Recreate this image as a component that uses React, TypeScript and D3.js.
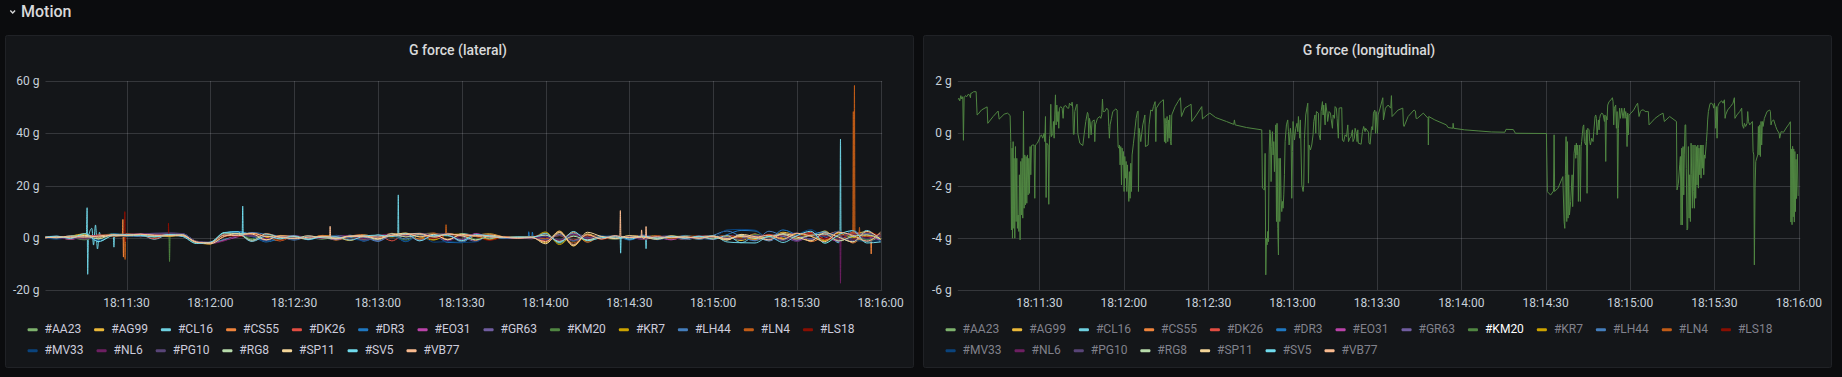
import React, { useMemo } from 'react';
import * as d3 from 'd3';

const W = 1842;
const H = 377;

// ---------- categories / labels ----------
const seriesNames = ['#AA23', '#AG99', '#CL16', '#CS55', '#DK26', '#DR3', '#EO31', '#GR63', '#KM20', '#KR7', '#LH44', '#LN4', '#LS18', '#MV33', '#NL6', '#PG10', '#RG8', '#SP11', '#SV5', '#VB77'];
const seriesColors = ['#7EB26D', '#EAB839', '#6ED0E0', '#EF843C', '#E24D42', '#1F78C1', '#BA43A9', '#705DA0', '#508642', '#CCA300', '#447EBC', '#C15C17', '#890F02', '#0A437C', '#6D1F62', '#584477', '#B7DBAB', '#F4D598', '#70DBED', '#F9BA8F'];

const xTickLabels = ['18:11:30', '18:12:00', '18:12:30', '18:13:00', '18:13:30', '18:14:00', '18:14:30', '18:15:00', '18:15:30', '18:16:00'];
const timeRangeLabels = ['18:11:01', '18:16:00'];
const latYTicks = [-20, 0, 20, 40, 60];
const lonYTicks = [-6, -4, -2, 0, 2];

// ---------- lateral G (seconds after 18:11:00, one value every 5 s) ----------
const latTimes = [0, 5, 10, 15, 20, 25, 30, 35, 40, 45, 50, 55, 60, 65, 70, 75, 80, 85, 90, 95, 100, 105, 110, 115, 120, 125, 130, 135, 140, 145, 150, 155, 160, 165, 170, 175, 180, 185, 190, 195, 200, 205, 210, 215, 220, 225, 230, 235, 240, 245, 250, 255, 260, 265, 270, 275, 280, 285, 290, 295, 300];

const latAA23 = [0.2, 0.3, -0.4, 0.8, 0.5, 1.2, 1.4, 0.9, 0.6, 1.1, 1.3, -1.8, -2.0, 1.2, 1.5, -0.8, 1.2, 0.4, -0.3, 0.6, 0.2, -0.5, 0.8, 0.3, -0.9, 1.4, 1.6, 1.2, -0.7, 1.5, 0.9, 1.3, 0.6, 0.2, 0.1, -0.2, 1.8, -2.1, 0.9, -0.4, 0.3, -0.2, 0.5, 0.1, -0.4, 0.6, 0.2, -0.3, 0.5, -0.8, 1.2, -1.0, 0.6, 1.4, -0.6, 1.9, -1.2, 2.2, 0.4, -1.5, 0.8];
const latAG99 = [0.1, -0.3, 0.6, 1.5, -0.8, 0.9, 1.2, 1.5, 0.3, 0.8, 1.0, -1.5, -2.2, -0.8, 0.9, 1.8, -1.2, 0.6, 0.2, -0.6, 0.9, 0.4, -1.1, 0.7, 0.2, 1.0, 1.8, -0.6, 1.4, 1.1, -1.3, 0.8, 1.5, 0.3, -0.2, 0.4, -1.9, 2.6, -3.2, 1.5, -0.3, 0.6, -0.4, 0.2, 0.8, -0.5, 0.3, 0.6, -0.2, 0.4, -1.1, 0.9, -0.4, 2.1, 0.8, -1.0, 2.6, -1.4, 1.1, 2.3, -0.5];
const latCL16 = [-0.3, 0.4, 0.2, 1.0, -1.2, 1.3, 0.8, 1.1, -0.6, 1.2, 0.7, -2.0, -1.8, 1.9, 2.2, 1.1, -0.9, 0.8, -0.5, 0.3, -0.4, 0.9, 0.2, -0.8, 1.1, 0.6, 1.3, 1.7, 0.5, -0.9, 1.6, 0.7, -0.4, 0.5, 0.2, -0.3, 1.1, -1.6, 1.8, -0.9, 0.2, 0.7, -0.6, 0.4, -0.2, 0.5, -0.7, 0.3, 0.8, -1.6, -1.9, 0.4, -1.2, 1.3, -0.9, 1.0, 2.3, -1.9, -1.5, 2.8, -1.8];
const latCS55 = [0.4, 0.1, -0.5, 0.7, 0.9, 1.0, 1.5, 0.4, 1.2, 0.6, 1.4, -1.6, -1.9, 1.5, 0.6, 1.9, 0.3, -1.2, 0.7, 0.1, 0.5, -0.9, 0.6, 1.2, -0.2, 1.7, 0.4, 1.3, 1.8, -0.6, 1.2, -1.1, 0.8, 0.4, -0.1, 0.3, 0.9, -0.8, 2.1, -1.7, 0.6, -0.3, 0.4, 0.9, -0.5, 0.2, 0.7, -0.4, 0.1, 0.9, -0.3, 1.5, -0.7, 0.3, 1.6, -1.5, 0.7, 2.4, -2.0, 1.2, 0.4];
const latDK26 = [-0.2, 0.5, 0.3, -0.6, 1.1, 0.7, 1.3, 1.2, -0.4, 1.5, 0.9, -1.9, -2.3, 0.4, 1.2, -1.3, 1.6, 0.2, -0.6, 0.8, -0.2, 0.6, -0.7, 0.4, 0.9, -1.2, 1.5, 0.9, -0.4, 1.7, 0.6, 1.0, -0.8, 0.2, 0.3, 0.1, -1.2, 1.4, -0.9, 0.7, 0.4, -0.5, 0.2, -0.3, 0.6, 0.1, -0.6, 0.8, 0.3, -0.5, 1.0, -0.8, 1.3, -0.4, 0.9, 2.0, -0.8, 0.9, 1.6, -1.1, 1.3];
const latDR3 = [0.3, -0.4, 0.8, 0.4, -1.0, 1.6, 0.9, 0.6, 1.0, 0.4, 1.5, -1.4, -2.1, 1.8, 2.4, 0.8, -1.6, -0.2, 0.9, -0.8, 0.3, -0.3, 1.0, -1.3, 0.6, 1.1, -1.5, 1.5, 1.2, -1.8, -1.9, 1.4, 0.3, -0.3, 0.2, 0.5, 1.3, -1.3, 0.6, 0.3, -0.4, 0.8, -0.9, 0.6, 0.3, -0.4, 0.9, -0.1, -0.6, 1.2, 2.8, 2.6, -0.3, 3.0, 1.1, -0.4, 1.8, -1.6, 2.9, -0.7, 1.5];
const latEO31 = [0.0, 0.2, -0.6, 0.5, 0.8, 1.1, 1.0, 1.3, 1.6, 1.4, 1.2, -1.7, -2.0, -1.0, 0.4, 1.4, -0.5, 0.5, 0.1, -0.4, 0.7, -0.6, 0.3, 0.9, -0.6, 1.3, 1.0, 0.6, 1.4, 0.8, -0.7, 1.6, 0.4, 0.1, -0.3, 0.2, 0.5, -1.1, 1.2, -0.6, 0.5, 0.1, -0.4, 0.7, 0.2, -0.8, 0.4, 0.2, -0.5, 0.7, 0.4, -0.9, 0.8, 1.1, -1.0, 1.5, 0.3, -1.3, 2.1, 0.6, -0.9];
const latGR63 = [0.1, -0.2, 0.4, -0.3, 0.6, 0.9, 1.1, 1.5, 1.7, 1.8, 1.6, -1.3, -1.8, 1.3, 1.0, 0.6, -1.1, 0.3, -0.4, 0.5, 0.1, -0.7, 0.5, 0.6, -1.3, 0.9, 1.4, -0.9, 0.8, 1.3, 0.5, -1.4, 1.1, 0.3, 0.0, -0.4, 0.7, -1.5, 1.5, 0.4, -0.2, 0.5, 0.3, -0.6, 0.4, 0.7, -0.3, 0.1, 0.6, -0.2, 0.8, 0.5, -1.0, 0.7, 1.8, -0.7, 1.2, 1.9, -0.6, 1.7, 0.2];
const latKM20 = [-0.1, 0.4, 0.1, -0.8, 0.7, 1.4, 0.6, 1.0, 0.9, 1.3, 1.1, -2.1, -2.1, 0.9, 1.7, -0.4, 0.9, -0.6, 0.4, 0.2, -0.6, 0.3, -0.2, 1.0, 0.4, 0.8, -0.9, 1.4, 1.5, 0.6, 1.1, -0.6, 0.7, -0.1, 0.4, 0.0, -0.6, 1.9, -1.4, 0.8, 0.1, -0.6, 0.6, 0.3, -0.4, 0.8, 0.1, -0.5, 0.4, 0.3, -0.7, 1.3, 0.2, -0.5, 0.6, 1.1, -1.8, 0.6, 1.3, -0.8, 1.0];
const latKR7 = [0.2, 0.0, 0.5, 1.2, -0.5, 0.8, 1.3, 0.7, 1.1, 0.5, 0.8, -1.8, -2.4, 1.6, 1.3, 1.6, 0.2, -0.8, 0.5, 0.3, 0.6, -0.2, 0.8, -0.7, 0.9, 0.3, 1.1, 0.4, -0.9, 1.2, 1.4, 0.5, -0.6, 0.2, 0.3, -0.1, 2.2, -2.6, 1.0, -1.2, 0.4, -0.2, 0.7, -0.5, 0.5, -0.3, 0.6, 0.4, -0.4, 0.6, 0.2, -0.6, 0.9, -0.3, 1.4, 0.5, -1.1, 1.7, 0.1, 1.0, -0.3];
const latLH44 = [0.3, 0.6, -0.2, 0.3, 0.4, 1.1, 0.8, 0.5, 1.4, 0.9, 0.6, -1.5, -1.9, -0.6, 0.7, 2.0, 1.3, 0.6, -0.9, 0.4, 0.5, -0.4, 0.4, 0.2, -1.4, 1.2, -0.5, 1.6, 0.7, 1.0, -1.6, 0.9, 0.6, -0.2, 0.1, 0.3, -0.7, 1.2, -1.1, 0.5, 0.6, -0.4, 0.3, 0.5, -0.7, 0.3, 0.5, -0.6, 0.9, 2.6, 0.5, -1.2, 2.5, 0.6, -1.3, 1.2, 2.1, -0.9, 0.7, 1.8, -1.2];
const latLN4 = [0.5, 0.2, -0.3, 0.9, 0.2, 0.6, 1.6, 1.0, 0.7, 1.1, 1.3, -1.7, -2.2, 1.4, 1.1, 1.2, -0.7, 0.9, 0.3, -0.2, 0.8, 0.2, -0.5, 0.5, 0.7, 1.5, 0.8, -0.5, 1.6, 1.3, 0.4, 0.7, 1.2, 0.4, 0.1, 0.2, -0.4, 0.8, -2.0, 0.9, 0.3, 0.6, -0.1, 0.4, 0.1, 0.6, -0.4, 0.5, 0.2, -0.3, 0.7, 0.3, -0.2, 1.0, -0.5, 1.3, 0.9, -0.9, 2.0, 0.4, 1.6];
const latLS18 = [-0.4, 0.3, 0.6, -0.2, 0.8, 1.2, 1.1, 0.8, 1.2, 1.5, 0.9, -1.4, -2.0, 0.7, 0.5, 1.3, 0.8, -1.0, 0.6, -0.1, 0.4, 0.6, -0.8, 0.8, -0.3, 1.3, 1.2, 0.8, -0.3, 1.1, 1.2, 0.5, -1.0, 0.3, -0.1, 0.4, 1.4, -1.0, 0.4, 0.6, -0.6, 0.3, 0.4, -0.2, 0.7, -0.2, 0.3, 0.7, 0.0, 0.8, -0.4, 0.7, 1.1, -0.8, 0.4, 1.6, -0.4, 1.3, -0.7, 2.2, 0.7];
const latMV33 = [0.1, -0.5, 0.2, 0.6, -0.9, 1.0, 0.5, 1.4, 0.8, 1.2, 1.5, -1.6, -2.1, 1.7, 1.9, 0.3, -1.4, 0.4, -0.7, 0.6, 0.2, 0.8, -0.3, -1.0, 0.5, 0.7, -1.4, 1.1, -1.7, -1.5, -1.8, -1.6, 0.9, 0.0, 0.3, -0.3, 0.6, -0.7, 0.8, -0.5, 0.7, 0.4, -0.5, 1.2, -0.8, 0.4, -0.6, 0.7, 0.2, 3.0, 3.2, 2.9, -0.5, -0.8, 1.2, 3.1, 0.3, 2.6, -1.0, -1.3, -1.2];
const latNL6 = [0.2, 0.1, -0.4, 0.4, 0.6, 0.8, 1.2, 1.6, 1.3, 1.0, 1.4, -1.9, -2.2, -1.2, 0.8, 1.0, -0.3, 0.2, 0.8, 0.1, -0.3, 0.5, 0.9, -0.4, 0.8, 1.4, 0.6, 1.5, 1.0, -1.2, 0.7, 1.2, 0.5, 0.2, 0.1, -0.2, 0.3, -0.9, 1.3, -0.3, 0.2, 0.6, 0.2, -0.6, 0.5, 0.3, 0.0, -0.3, 0.5, -0.4, 0.6, 0.1, -0.6, 0.9, -1.4, 0.8, 1.1, -0.5, 1.4, -0.2, 0.9];
const latPG10 = [0.0, 0.3, 0.3, -0.5, 0.5, 1.0, 1.4, 1.2, 1.6, 1.7, 1.5, -1.5, -1.7, 1.1, 1.2, 0.5, 0.6, -0.5, 0.3, -0.3, 0.4, 0.2, 0.6, -0.9, 0.2, 1.1, 0.9, -1.1, 1.2, 1.6, -0.9, 1.1, 0.8, -0.1, 0.2, 0.1, -0.8, 0.9, -1.3, 0.2, -0.1, 0.3, 0.5, -0.4, 0.2, 0.5, -0.5, 0.3, 0.4, 0.1, -0.6, 0.9, 0.5, -1.1, 1.0, -0.5, 1.6, 0.6, -1.1, 1.5, 0.3];
const latRG8 = [0.3, 0.0, 0.7, 0.6, -0.4, 1.2, 0.7, 1.0, 0.5, 0.9, 1.2, -1.8, -1.9, 1.8, 1.4, -1.0, 1.5, 0.1, -0.2, 0.7, 0.0, -0.3, 0.7, 0.5, -0.6, 1.6, 0.3, 1.2, 0.6, 1.4, 0.8, -0.8, 0.4, 0.1, 0.2, 0.3, 1.0, -1.4, 0.6, -0.8, 0.4, -0.1, 0.1, 0.6, -0.3, 0.2, 0.4, -0.2, 0.7, -0.6, 0.9, -0.3, 0.4, 1.2, -0.2, 0.9, 1.4, -1.2, 0.5, 1.1, -0.6];
const latSP11 = [-0.2, 0.4, 0.0, 0.9, 0.3, 0.9, 1.0, 1.4, 0.9, 1.1, 0.8, -1.6, -2.3, 0.5, 1.6, 1.4, -0.8, 0.7, 0.5, -0.5, 0.6, -0.1, 0.5, 0.8, -0.4, 1.0, 1.7, 0.3, 1.3, -0.8, 1.3, 0.6, 1.0, 0.3, 0.0, 0.2, -2.3, 2.0, -3.0, 2.1, 0.5, -0.3, 0.8, 0.2, -0.6, 0.7, -0.1, 0.4, 0.3, -0.9, 1.3, 0.4, -0.8, 1.6, 0.3, -1.2, 1.9, 0.2, -1.6, 2.4, -0.7];
const latSV5 = [0.1, 0.6, -0.3, 1.6, -1.5, 0.8, 1.2, 0.9, 0.3, 1.2, 0.5, -2.2, -1.7, 2.0, 2.3, -1.4, 0.6, -0.4, 0.7, -0.6, 0.3, 0.4, -0.9, 0.6, 1.0, 0.5, 1.5, -1.2, 1.0, 0.9, -1.1, 1.2, 0.7, 0.0, 0.3, 0.1, 1.6, -1.8, 2.4, -1.1, 0.0, 0.4, -0.5, 0.5, -0.1, 0.4, -0.2, 0.6, -0.5, 0.8, -1.9, -2.0, 0.5, -1.8, 0.8, 2.5, -2.1, 1.2, 2.7, -2.0, -1.6];
const latVB77 = [0.0, 0.2, 0.4, 0.2, 0.7, 1.1, 0.9, 1.3, 1.0, 0.7, 1.0, -1.7, -2.0, 1.0, 0.8, 1.7, 0.5, 0.3, -0.4, 0.2, 0.4, -0.5, 0.6, 0.4, 0.3, 0.9, 1.2, 1.6, 0.2, 1.4, 1.0, 0.9, 0.3, 0.2, -0.2, 0.0, -1.5, 2.3, -2.6, 1.2, -0.5, 0.8, 0.1, -0.3, 0.4, 0.0, 0.3, -0.2, 0.6, -0.3, 0.5, 0.2, 1.0, -0.6, 1.7, 0.6, -1.5, 2.1, 0.9, -1.3, 2.2];

// short spikes [seconds, g]
const spikeCL16 = [[15.6, 0.6], [15.9, 11.5], [16.1, -14.0], [16.4, 0.5], [17.6, 3.6], [18.2, -2.8], [18.9, 4.9], [19.6, -4.3], [20.3, 2.1], [21.0, -1.0], [25.3, 0.3], [25.5, -3.6], [25.7, 0.4], [127.1, 0.6], [127.3, 16.4], [127.5, 0.4], [215.8, 0.2], [216.0, -4.2], [216.2, 0.3], [285.4, 0.5], [285.6, 37.8], [285.8, 0.2]];
const spikeCS55 = [[28.5, 0.9], [28.7, 7.0], [28.9, -7.4], [29.1, 0.8], [296.4, 0.5], [296.6, -6.2], [296.8, 0.8]];
const spikeLS18 = [[29.2, 1.0], [29.4, 10.0], [29.6, -1.5], [29.8, 0.9], [44.8, 1.2], [45.0, 5.6], [45.2, 1.1]];
const spikeLN4 = [[29.3, 0.6], [29.5, -8.3], [29.7, 0.8], [144.2, 0.9], [144.4, 5.0], [144.6, 0.8], [290.0, 1.0], [290.2, 48.3], [290.4, 2.0], [290.6, 58.3], [290.8, 1.5], [292.2, 1.2], [292.4, 4.0], [292.6, 0.9]];
const spikeKM20 = [[45.2, 1.0], [45.4, -9.1], [45.6, 0.8]];
const spikeSV5 = [[71.4, 1.0], [71.6, 12.1], [71.8, 0.8], [206.7, 0.2], [206.9, -5.9], [207.1, 0.3]];
const spikeVB77 = [[102.7, 0.3], [102.9, 4.4], [103.1, 0.2], [206.6, 0.5], [206.8, 10.4], [207.0, 0.4], [214.2, 0.2], [214.4, 3.0], [214.6, 0.3], [215.8, 0.2], [216.0, 4.3], [216.2, 0.1]];
const spikeNL6 = [[285.4, 0.3], [285.6, -17.4], [285.8, 0.5]];
const spikeDR3 = [[173.8, 0.1], [174.0, 2.3], [174.3, 0.2], [175.1, 0.3], [175.3, 2.2], [175.6, 0.4]];

const latValues = [latAA23, latAG99, latCL16, latCS55, latDK26, latDR3, latEO31, latGR63, latKM20, latKR7, latLH44, latLN4, latLS18, latMV33, latNL6, latPG10, latRG8, latSP11, latSV5, latVB77];
const latSpikes: Record<string, number[][]> = { '#CL16': spikeCL16, '#CS55': spikeCS55, '#LS18': spikeLS18, '#LN4': spikeLN4, '#KM20': spikeKM20, '#SV5': spikeSV5, '#VB77': spikeVB77, '#NL6': spikeNL6, '#DR3': spikeDR3 };

// ---------- longitudinal G of #KM20 [seconds after 18:11:00, g] ----------
const lonKM20 = [
  [1.0, 1.28], [1.36, 1.34], [1.71, 1.24], [2.07, 1.44], [2.42, 1.31], [2.78, 1.40], [3.0, -0.27], [3.25, 1.36], [3.73, 1.44], [4.2, 1.40], [4.67, 1.49], [5.15, 1.47], [5.5, 1.36], [5.62, 1.53], [6.1, 1.54], [6.57, 1.59], [7.52, 1.59], [7.87, 0.70], [8.23, 0.73], [9.41, 0.89], [11.43, 1.01], [11.67, 0.38], [13.56, 0.64], [15.34, 0.85], [15.7, 0.54], [17.47, 0.73], [18.66, 0.77], [19.6, 0.68], [19.84, -0.32], [20.08, -3.70], [20.3, -0.57], [20.43, -4.02], [20.67, -0.32], [20.9, -3.64], [21.0, -0.96], [21.26, -4.02], [21.5, -0.51], [21.74, -3.38], [21.97, -0.96], [22.2, -3.64], [22.45, -3.13], [22.7, -3.76], [22.9, -1.59], [23.15, -4.08], [23.4, -1.08], [23.63, -3.13], [23.87, -0.96], [24.1, -3.25], [24.35, 0.85], [24.58, -2.87], [24.82, -0.83], [25.05, -2.74], [25.3, -0.89], [25.53, -2.68], [25.77, -0.83], [26.0, -2.36], [26.24, -0.96], [26.48, -2.30], [26.7, -0.51], [26.95, -1.59], [27.19, -0.47], [27.66, -0.45], [28.1, -0.45], [28.37, -2.49], [28.6, -0.45], [29.3, -0.38], [29.8, -0.26], [30.27, -0.13], [30.74, -0.06], [31.2, -0.19], [31.7, 0.0], [31.93, -0.32], [32.17, 0.64], [32.4, -2.46], [32.64, -0.38], [33.1, -0.45], [33.35, -2.72], [33.6, -0.19], [33.8, -0.06], [34.06, 1.11], [34.3, -0.13], [34.77, 0.0], [35.0, 0.45], [35.25, -0.19], [35.48, 0.70], [35.72, 1.47], [35.96, 0.32], [36.2, 1.08], [36.43, 0.45], [36.67, 0.83], [36.9, 0.19], [37.14, 0.96], [37.6, 1.02], [38.1, 0.96], [38.45, 0.57], [38.7, 1.02], [39.4, 1.06], [40.0, 0.96], [40.46, 0.96], [40.7, 1.15], [41.4, 1.06], [41.64, 1.19], [41.88, 0.96], [42.1, -0.04], [42.35, -0.04], [42.6, 0.83], [43.2, 1.08], [43.4, 1.11], [43.66, 0.0], [44.37, -0.38], [45.44, -0.47], [45.9, -0.06], [46.5, 0.45], [47.1, 0.80], [47.33, 0.73], [47.57, -0.19], [47.8, 0.57], [48.04, 0.45], [48.4, -0.06], [48.75, 0.45], [49.5, 0.51], [49.7, -0.32], [49.94, 0.32], [50.65, 0.57], [51.5, 0.64], [51.84, 0.57], [52.2, 0.73], [52.43, 1.31], [52.67, 0.83], [53.26, 0.83], [53.97, 0.96], [54.44, 0.89], [54.68, 0.26], [54.9, -0.19], [55.15, 0.32], [55.63, 0.57], [56.1, 0.83], [57.17, 0.93], [57.64, 0.89], [58.0, -0.51], [58.24, -0.57], [58.47, -0.45], [58.7, -1.21], [58.95, -0.51], [59.2, -1.98], [59.42, -0.57], [59.66, -1.21], [59.9, -0.70], [60.13, -2.23], [60.37, -0.89], [60.6, -1.72], [60.84, -1.08], [61.08, -2.23], [61.3, -1.21], [61.55, -1.98], [61.8, -2.61], [62.0, -1.47], [62.26, -2.49], [62.5, -1.15], [62.74, -2.23], [62.97, -0.83], [63.45, -0.38], [63.9, 0.06], [64.4, 0.57], [64.87, 0.83], [65.1, 0.85], [65.23, -2.23], [65.46, 0.19], [66.05, -0.32], [66.77, 0.32], [67.5, 0.70], [67.7, -0.51], [68.66, -0.45], [69.0, 0.32], [69.6, 0.89], [70.2, 0.85], [70.55, 1.02], [71.15, 1.21], [71.4, -0.32], [71.6, 0.96], [72.7, 1.15], [73.6, 1.25], [74.1, 1.28], [74.35, 0.32],
  [74.47, -0.32], [74.7, 0.57], [74.94, -0.38], [75.18, 0.38], [75.42, 0.64], [75.65, -0.32], [75.89, 0.51], [76.13, -0.19], [76.37, 0.70], [76.6, -0.32], [76.84, -0.45], [77.08, 0.70], [77.31, 0.77], [78.26, 1.02], [79.3, 1.21], [80.16, 1.36], [80.51, 0.64], [81.7, 0.96], [83.5, 1.08], [83.95, 1.11], [84.2, 0.45], [85.85, 0.70], [87.74, 1.02], [87.98, 0.55], [89.64, 0.70], [90.6, 0.77], [92.7, 0.60], [96.5, 0.45], [99.1, 0.34], [99.35, 0.51], [99.6, 0.32], [103.6, 0.22], [109.07, 0.13], [109.3, -2.10], [110.0, -2.17], [110.26, -0.77], [110.5, -5.42], [110.73, -4.02], [110.97, -4.27], [111.2, -3.76], [111.44, -4.15], [111.68, -0.83], [111.92, 0.13], [112.15, 0.0], [112.39, -1.85], [112.63, -0.51], [112.86, 0.06], [113.1, -0.83], [113.34, -0.32], [113.57, -1.47], [113.8, -0.83], [114.05, 0.32], [114.3, -3.38], [114.5, 0.38], [114.76, -3.64], [115.0, -4.66], [115.23, -0.96], [115.47, -3.38], [115.7, -0.96], [115.94, -2.49], [116.18, -3.0], [116.42, -2.61], [116.65, -2.87], [116.9, -2.36], [117.13, -1.59], [117.37, -0.32], [117.84, 0.32], [118.3, 0.51], [118.55, 0.06], [118.8, -0.45], [119.26, 0.19], [119.5, -0.06], [119.74, -2.49], [119.97, -0.70], [120.2, 0.45], [120.7, -0.26], [121.15, 0.19], [121.6, 0.38], [121.87, 0.06], [122.1, 0.64], [122.58, -0.19], [122.8, 0.51], [123.3, -1.98], [123.77, -2.23], [124.0, -1.98], [124.24, -0.19], [124.7, 0.70], [125.2, 1.02], [125.43, 1.15], [125.66, -1.91], [125.9, -0.45], [126.37, -0.64], [126.85, -0.45], [127.3, -0.06], [127.56, 0.45], [128.0, 0.70], [128.27, 0.0], [128.5, 0.83], [129.2, 0.77], [129.45, -0.06], [129.9, -0.26], [130.17, 0.83], [130.64, 1.21], [130.88, 0.70], [131.1, 1.08], [131.6, 0.32], [131.8, 1.15], [132.3, 0.77], [132.5, 0.45], [133.0, 0.83], [133.5, 0.77], [133.7, 0.57], [134.2, 0.19], [134.43, 0.70], [134.9, 0.57], [135.14, 1.02], [135.6, 0.96], [135.85, 0.57], [136.3, -0.19], [136.56, 0.96], [137.5, 0.98], [137.75, -0.26], [138.2, -0.32], [138.7, -0.06], [139.2, -0.13], [139.65, 0.32], [139.9, -0.32], [140.35, -0.19], [140.8, -0.13], [141.3, 0.13], [141.5, -0.32], [142.0, -0.19], [142.25, 0.19], [142.7, 0.0], [142.96, -0.32], [143.2, 0.13], [143.4, -0.38], [144.4, -0.42], [144.86, 0.06], [145.3, 0.26], [145.8, 0.06], [146.0, 0.19], [147.0, 0.04], [147.2, -0.38],
  [147.6, -0.42], [148.06, 0.19], [148.3, 0.26], [148.53, 0.13], [148.77, 0.77], [149.25, 0.89], [149.5, 0.0], [149.7, 0.83], [150.2, 0.0], [150.43, 0.70], [151.14, 0.96], [152.1, 1.36], [152.33, 0.51], [153.04, 0.96], [154.0, 1.08], [154.93, 0.96], [155.17, 1.44], [155.4, 0.64], [157.54, 0.89], [159.2, 0.96], [159.44, 0.32], [159.67, 0.26], [161.1, 0.64], [163.2, 0.89], [163.7, 0.85], [163.94, 0.57], [164.4, 0.57], [166.5, 0.77], [168.2, 0.57], [168.3, -0.45], [168.44, 0.64], [170.6, 0.51], [174.7, 0.32], [175.3, 0.22], [177.0, 0.19], [177.1, 0.38], [177.3, 0.19], [181.2, 0.13], [186.0, 0.09], [190.7, 0.05], [195.5, 0.04], [195.9, 0.15], [198.5, 0.14], [199.25, 0.0], [210.27, -0.01], [210.6, -2.23], [211.1, -2.30], [211.8, -2.36], [212.8, -2.21], [213.0, -0.06], [213.2, -2.23], [214.4, -2.10], [216.1, -1.66], [216.56, -3.38], [216.8, -3.64], [217.0, -1.59], [217.26, -0.13], [217.5, -3.38], [217.74, -0.32], [217.97, -3.25], [218.2, -1.59], [218.45, -3.13], [218.9, -2.61], [219.4, -1.59], [219.6, -2.81], [220.1, -0.77],
  [220.46, -0.45], [220.7, -0.96], [220.93, -0.38], [221.17, -0.83], [221.4, -0.45], [221.64, -2.61], [221.88, -0.70], [222.1, -0.45], [222.35, -2.61], [222.6, -0.51], [222.8, -0.32], [223.3, 0.26], [223.54, 0.32], [223.77, -0.32], [224.25, -0.45], [224.5, 0.13], [224.72, -2.30], [224.96, 0.19], [225.43, 0.13], [225.67, -0.32], [225.9, -0.45], [226.38, -0.19], [226.86, -0.32], [227.1, 0.06], [227.57, 0.64], [227.8, 0.70], [228.04, 0.57], [228.28, -0.06], [228.75, 0.51], [229.0, 0.13], [229.2, 0.57], [229.46, 0.70], [229.94, 0.77], [230.4, 0.73], [230.9, 0.45], [231.1, 0.70], [231.36, -1.08], [231.6, 0.64], [231.83, 0.51], [232.07, 1.08], [232.54, 1.21], [233.25, 1.28], [233.73, 1.36], [233.97, 1.21], [234.2, 0.32], [234.44, 0.96], [234.9, 1.08], [235.15, 0.19], [235.4, 0.83], [235.6, -2.49], [235.86, 0.19], [236.3, 0.96], [236.57, 0.57], [237.05, 0.96], [237.5, 0.57], [238.0, 0.96], [238.23, 0.57], [238.47, 0.83], [238.7, 0.64], [238.94, -0.51], [239.18, 0.77], [239.4, -0.06], [239.65, 0.70], [240.36, 0.77], [241.3, 0.89], [242.26, 1.08], [242.7, 1.15], [243.2, 0.64], [243.68, 0.83], [244.16, 0.89], [244.87, 0.89], [245.34, 0.83], [246.05, 0.83], [246.5, 0.83], [246.76, 0.32], [248.9, 0.57], [250.55, 0.70], [251.74, 0.77], [252.2, 0.45], [254.1, 0.64], [256.5, 0.45], [256.7, -2.17], [257.2, -1.91], [257.66, -1.21], [257.9, -0.89], [258.14, -3.51], [258.4, -0.57], [258.6, -3.51], [258.85, -0.51], [259.1, -2.36], [259.3, -0.83], [259.56, 0.32], [259.8, 0.32], [260.0, -1.34], [260.27, -3.70], [260.5, -3.64], [260.75, -0.51], [261.0, -3.25], [261.2, -1.59], [261.46, -3.38], [261.7, -0.38], [261.93, -1.59], [262.17, -2.87], [262.4, -0.45], [262.64, -2.23], [262.88, -2.87], [263.1, -0.45], [263.35, -2.49], [263.6, -0.51], [263.8, -1.98], [264.1, -0.45], [264.3, -2.10], [264.5, -0.57], [264.8, -1.59], [265.0, -0.45], [265.25, -1.72], [265.5, -0.45], [265.7, -1.34], [265.96, -0.45], [266.2, -1.59], [266.43, -0.83], [266.67, -0.96], [267.15, -0.32], [267.4, 0.06], [267.6, 0.51], [267.86, 0.83], [268.33, 1.08], [268.57, 1.15], [269.04, 1.15], [269.5, 1.08], [269.75, 0.96], [270.0, 1.15], [270.2, 0.96], [270.46, 0.19], [270.7, 1.02], [270.94, -0.19], [271.2, 1.02], [271.65, 1.15], [272.6, 1.24], [273.07, 1.15], [273.55, 1.28], [273.8, 0.57], [274.0, 0.70], [274.7, 0.89], [275.7, 1.02], [276.6, 1.15], [277.1, 1.36], [277.3, 0.57], [278.0, 0.70], [279.0, 0.83], [279.7, 0.96], [279.94, 0.32], [280.4, 0.19], [280.65, 0.38], [281.1, 0.26], [281.6, 0.38], [281.84, 0.83], [282.1, 0.45], [282.55, 0.32], [283.5, 0.45], [283.74, -0.70], [284.0, -0.83], [284.2, -5.04], [284.45, -2.10], [284.7, -1.08], [285.4, -0.83], [285.63, 0.26], [285.87, -0.83], [286.1, 0.32], [286.34, -0.89], [286.58, 0.45], [286.8, -0.45], [287.05, 0.45], [287.3, 0.26], [287.76, 0.57], [288.24, 0.70], [288.7, 0.83], [289.66, 0.89], [289.9, 0.83], [290.13, 0.32], [290.37, 0.45], [291.08, 0.51], [291.8, 0.26], [292.27, 0.13], [293.0, 0.0], [293.2, -0.19], [293.7, 0.06], [294.6, 0.04], [295.5, 0.2], [296.5, 0.35], [297.0, 0.44], [297.2, -3.4], [297.4, -0.6], [297.6, -3.5], [297.8, -0.5], [298.0, -3.2], [298.2, -0.6], [298.4, -3.4], [298.6, -0.7], [298.8, -3.0], [299.0, -1.0], [299.2, -2.5], [299.5, -0.8], [299.8, -2.4]
];

// ---------- styling ----------
const BG = '#0b0c0e';
const PANEL_BG = '#141619';
const PANEL_BORDER = '#202226';
const GRID = 'rgba(240,250,255,0.15)';
const TEXT = '#d8d9da';
const TICK_TEXT = '#c7d0d9';
const FONT = 'Roboto, Helvetica, Arial, sans-serif';

const hmsToSec = (s: string) => {
  const [h, m, sec] = s.split(':').map(Number);
  return (h - 18) * 3600 + (m - 11) * 60 + sec;
};

type PanelDef = {
  id: string; title: string; x: number; y: number; w: number; h: number;
  plotL: number; plotR: number; plotT: number; plotB: number; yTicks: number[];
  titleCx: number; hidden: (name: string) => boolean;
};

const panels: PanelDef[] = [
  { id: 'lat', title: 'G force (lateral)', x: 5, y: 35, w: 909, h: 333, plotL: 45.5, plotR: 880.7, plotT: 81, plotB: 290, yTicks: latYTicks, titleCx: 458, hidden: () => false },
  { id: 'lon', title: 'G force (longitudinal)', x: 923, y: 35, w: 909, h: 333, plotL: 957.8, plotR: 1798.8, plotT: 81, plotB: 290, yTicks: lonYTicks, titleCx: 1369, hidden: (n) => n !== '#KM20' },
];

function measure(text: string, font: string) {
  if (typeof document === 'undefined') return text.length * 7;
  const c = document.createElement('canvas');
  const ctx = c.getContext('2d');
  if (!ctx) return text.length * 7;
  ctx.font = font;
  return ctx.measureText(text).width;
}

function Legend({ p }: { p: PanelDef }) {
  const items = useMemo(() => {
    const startX = p.x + 22.6;
    const maxX = p.x + p.w - 10;
    const out: { name: string; color: string; x: number; row: number }[] = [];
    let x = startX;
    let row = 0;
    seriesNames.forEach((name, i) => {
      const tw = measure(name, `12px ${FONT}`);
      const itemW = 17 + tw;
      if (x + itemW > maxX && x > startX) { row += 1; x = startX; }
      out.push({ name, color: seriesColors[i], x, row });
      x += itemW + 13;
    });
    return out;
  }, [p]);
  return (
    <g>
      {items.map((it) => {
        const baseline = 333.3 + it.row * 21;
        const hid = p.hidden(it.name);
        return (
          <g key={it.name}>
            <rect x={it.x} y={baseline - 5} width={10} height={3} rx={1} fill={it.color} />
            <text x={it.x + 17} y={baseline} fontSize={12} fill={hid ? 'rgba(204,204,220,0.6)' : (p.id === 'lon' ? '#ffffff' : '#ccccdc')} fontFamily={FONT}>{it.name}</text>
          </g>
        );
      })}
    </g>
  );
}

function Panel({ p }: { p: PanelDef }) {
  const t0 = hmsToSec(timeRangeLabels[0]);
  const t1 = hmsToSec(timeRangeLabels[1]);
  const x = d3.scaleLinear().domain([t0, t1]).range([p.plotL, p.plotR]);
  const y = d3.scaleLinear().domain([p.yTicks[0], p.yTicks[p.yTicks.length - 1]]).range([p.plotB, p.plotT]);
  const xTicks = xTickLabels.map((l) => ({ l, t: hmsToSec(l) }));
  const clipId = `clip-${p.id}`;

  let paths: { d: string; color: string; key: string }[] = [];
  if (p.id === 'lat') {
    const line = d3.line<number[]>().x((d) => x(d[0])).y((d) => y(d[1])).curve(d3.curveMonotoneX);
    paths = seriesNames.map((name, i) => {
      const pts: number[][] = latTimes.map((t, j) => [t, latValues[i][j]]);
      const sp = latSpikes[name] || [];
      const merged = pts.concat(sp).sort((a, b) => a[0] - b[0]);
      return { d: line(merged) || '', color: seriesColors[i], key: name };
    });
  } else {
    const line = d3.line<number[]>().x((d) => x(d[0])).y((d) => y(d[1]));
    const idx = seriesNames.indexOf('#KM20');
    paths = [{ d: line(lonKM20) || '', color: seriesColors[idx], key: '#KM20' }];
  }

  return (
    <g>
      <rect x={p.x + 0.5} y={p.y + 0.5} width={p.w - 1} height={p.h - 1} rx={2} fill={PANEL_BG} stroke={PANEL_BORDER} />
      <text x={p.titleCx} y={55} textAnchor="middle" fontSize={14} fontWeight={500} fill={TEXT} fontFamily={FONT}>{p.title}</text>
      <defs>
        <clipPath id={clipId}>
          <rect x={p.plotL} y={p.plotT - 10} width={p.plotR - p.plotL} height={p.plotB - p.plotT + 20} />
        </clipPath>
      </defs>
      {p.yTicks.map((v) => (
        <g key={`y${v}`}>
          <line x1={p.plotL} x2={p.plotR + 1.5} y1={Math.round(y(v)) + 0.5} y2={Math.round(y(v)) + 0.5} stroke={GRID} strokeWidth={1} />
          <text x={p.plotL - 6} y={y(v) + 4} textAnchor="end" fontSize={12} fill={TICK_TEXT} fontFamily={FONT}>{`${v} g`}</text>
        </g>
      ))}
      {xTicks.map(({ l, t }) => (
        <g key={l}>
          <line x1={Math.round(x(t)) + 0.5} x2={Math.round(x(t)) + 0.5} y1={p.plotT} y2={p.plotB} stroke={GRID} strokeWidth={1} />
          <text x={x(t)} y={307} textAnchor="middle" fontSize={12} fill={TICK_TEXT} fontFamily={FONT}>{l}</text>
        </g>
      ))}
      <g clipPath={`url(#${clipId})`}>
        {paths.map((pp) => (
          <path key={pp.key} d={pp.d} fill="none" stroke={pp.color} strokeWidth={1} strokeLinejoin="round" />
        ))}
      </g>
      <Legend p={p} />
    </g>
  );
}

export default function App() {
  return (
    <svg width={W} height={H} viewBox={`0 0 ${W} ${H}`} style={{ position: 'fixed', left: 0, top: 0, display: 'block' }}>
      <rect x={0} y={0} width={W} height={H} fill={BG} />
      <path d="M10.3 10.6 L12.7 13 L15.1 10.6" fill="none" stroke={TEXT} strokeWidth={1.4} />
      <text x={21} y={17.2} fontSize={16} fontWeight={500} fill={TEXT} fontFamily={FONT}>Motion</text>
      {panels.map((p) => <Panel key={p.id} p={p} />)}
    </svg>
  );
}
